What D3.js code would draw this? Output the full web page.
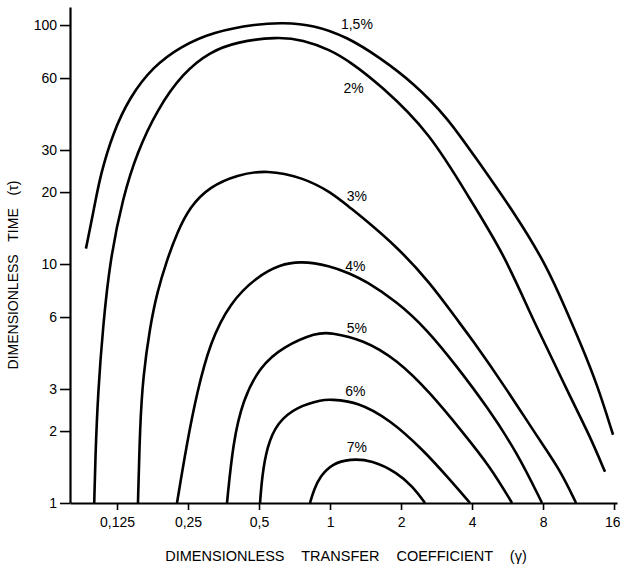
<!DOCTYPE html>
<html>
<head>
<meta charset="utf-8">
<script src="https://cdn.jsdelivr.net/npm/d3@7"></script>
<style>
  body { margin: 0; background: #fff; }
  text { font-family: "Liberation Sans", Arial, sans-serif; fill: #000; }
</style>
</head>
<body>
<div id="graph"></div>
<script>
// set up svg
const W = 620, H = 567;
const margin = {top: 7, right: 3, bottom: 64, left: 70},
    width = W - margin.left - margin.right,
    height = H - margin.top - margin.bottom;

// tick values
const xTicks = [0.125, 0.25, 0.5, 1, 2, 4, 8, 16];
const xTickLabels = ["0,125", "0,25", "0,5", "1", "2", "4", "8", "16"];
const yTicks = [1, 2, 3, 6, 10, 20, 30, 60, 100];

// contour values: gamma (x) and tau (y)
const curveNames = ["1,5%", "2%", "3%", "4%", "5%", "6%", "7%"];

const gamma15 = [0.0923, 0.1011, 0.1059, 0.1202, 0.1418, 0.1776, 0.2316, 0.3192, 0.4903, 0.6319, 0.8474, 1.18, 1.629, 2.249, 3.134, 4.199, 6.206, 8.318, 9.9, 11.55, 13.55, 15.85];
const tau15 = [11.6, 18.1, 23.2, 35.5, 50.1, 66.9, 81.2, 93.7, 101.2, 102.3, 100.3, 89.3, 73.0, 57.4, 41.3, 27.3, 15.8, 9.75, 6.6, 4.65, 3.15, 1.93];

const gamma2 = [0.1001, 0.1011, 0.1038, 0.109, 0.1167, 0.1326, 0.1519, 0.1847, 0.2381, 0.31, 0.4032, 0.5963, 0.7684, 1, 1.216, 1.629, 2.655, 3.923, 5.414, 7.256, 8.0, 10.41, 12.66, 14.65];
const tau2 = [1, 1.52, 2.9, 5.47, 10.4, 19.1, 29.2, 44.2, 63.1, 77.3, 85.1, 89.3, 86.8, 78.8, 70.2, 56.3, 35.5, 18.6, 11.2, 5.85, 4.83, 2.79, 1.9, 1.35];

const gamma3 = [0.1534, 0.1564, 0.1611, 0.1726, 0.1847, 0.2036, 0.2245, 0.2549, 0.31, 0.4032, 0.5405, 0.7684, 1, 1.216, 1.38, 1.923, 2.655, 3.455, 3.923, 5.63, 7.544, 9.44, 11.04];
const tau3 = [1, 2.09, 3.38, 5.47, 7.59, 10.4, 13.5, 17.4, 21.1, 23.6, 24.8, 23.0, 20.1, 17.2, 15.6, 11.8, 8.36, 5.85, 4.97, 2.98, 1.9, 1.38, 1];

const gamma4 = [0.2245, 0.2476, 0.2729, 0.31, 0.3766, 0.4903, 0.6138, 0.7462, 1, 1.216, 1.407, 1.923, 2.578, 3.455, 4.631, 6.206, 7.923];
const tau4 = [1, 1.79, 2.9, 4.69, 6.9, 8.86, 9.94, 10.3, 9.85, 9.12, 8.52, 6.96, 5.32, 3.72, 2.53, 1.63, 1];

const gamma5 = [0.3658, 0.3879, 0.4274, 0.505, 0.6319, 0.8809, 1, 1.38, 1.923, 2.655, 3.664, 4.769, 5.911];
const tau5 = [1, 1.79, 2.71, 3.72, 4.51, 5.17, 5.17, 4.83, 3.98, 2.9, 1.97, 1.42, 1];

const gamma6 = [0.505, 0.515, 0.5405, 0.5963, 0.7245, 0.934, 1, 1.302, 1.797, 2.479, 3.227, 3.923];
const tau6 = [1, 1.29, 1.72, 2.17, 2.53, 2.71, 2.71, 2.66, 2.23, 1.67, 1.25, 1];

const gamma7 = [0.8225, 0.8555, 0.9071, 1.02, 1.216, 1.507, 1.923, 2.249, 2.528];
const tau7 = [1, 1.14, 1.29, 1.46, 1.53, 1.51, 1.34, 1.17, 1];

// where each label sits (gamma, tau)
const labelGamma = [1.30, 1.26, 1.30, 1.28, 1.30, 1.28, 1.30];
const labelTau = [101, 54.7, 19.3, 9.85, 5.42, 2.93, 1.71];

const gammas = [gamma15, gamma2, gamma3, gamma4, gamma5, gamma6, gamma7];
const taus = [tau15, tau2, tau3, tau4, tau5, tau6, tau7];

let svg = d3.select("#graph")
    .append("svg")
    .attr("width", W)
    .attr("height", H)
    .append("g")
    .attr("transform", "translate(" + margin.left + "," + margin.top + ")");

const x = d3.scaleLog().base(2).domain([0.079, 16.47]).range([0, width]);
const y = d3.scaleLog().domain([1, 119]).range([height, 0]);

// axes
const xAxis = svg.append("g")
    .attr("transform", "translate(0," + height + ")")
    .call(d3.axisBottom(x).tickValues(xTicks).tickFormat((d, i) => xTickLabels[i]).tickSize(7).tickPadding(7).tickSizeOuter(0));
const yAxis = svg.append("g")
    .call(d3.axisLeft(y).tickValues(yTicks).tickFormat(d3.format("d")).tickSize(10).tickPadding(3).tickSizeOuter(0));

[xAxis, yAxis].forEach(function(a) {
  a.select(".domain").attr("stroke", "#000").attr("stroke-width", 2.2);
  a.selectAll(".tick line").attr("stroke", "#000").attr("stroke-width", 1.6);
  a.selectAll(".tick text").style("font-size", "14px").attr("fill", "#000");
});

// keep "16" inside the page
xAxis.selectAll(".tick text")
    .filter(d => d === 16)
    .attr("text-anchor", "end")
    .attr("x", 6);

// curves
const line = d3.line()
    .x(d => x(d[0]))
    .y(d => y(d[1]))
    .curve(d3.curveBasis);

svg.selectAll(".contour")
    .data(curveNames)
    .enter()
    .append("path")
    .attr("class", "contour")
    .attr("fill", "none")
    .attr("stroke", "#000")
    .attr("stroke-width", 2.6)
    .attr("stroke-linejoin", "round")
    .attr("d", (d, i) => line(d3.zip(gammas[i], taus[i])));

svg.selectAll(".lbl")
    .data(curveNames)
    .enter()
    .append("text")
    .attr("class", "lbl")
    .attr("x", (d, i) => x(labelGamma[i]))
    .attr("y", (d, i) => y(labelTau[i]))
    .attr("dy", "0.36em")
    .attr("text-anchor", "middle")
    .style("font-size", "14px")
    .text(d => d);

// axis titles
svg.append("text")
    .attr("x", 276)
    .attr("y", height + 58)
    .attr("text-anchor", "middle")
    .style("font-size", "14.5px")
    .style("word-spacing", "13px")
    .text("DIMENSIONLESS TRANSFER COEFFICIENT (γ)");

svg.append("text")
    .attr("transform", "translate(-52," + (275 - margin.top) + ") rotate(-90)")
    .attr("text-anchor", "middle")
    .style("font-size", "14px")
    .style("word-spacing", "9px")
    .text("DIMENSIONLESS TIME (τ)");
</script>
</body>
</html>
